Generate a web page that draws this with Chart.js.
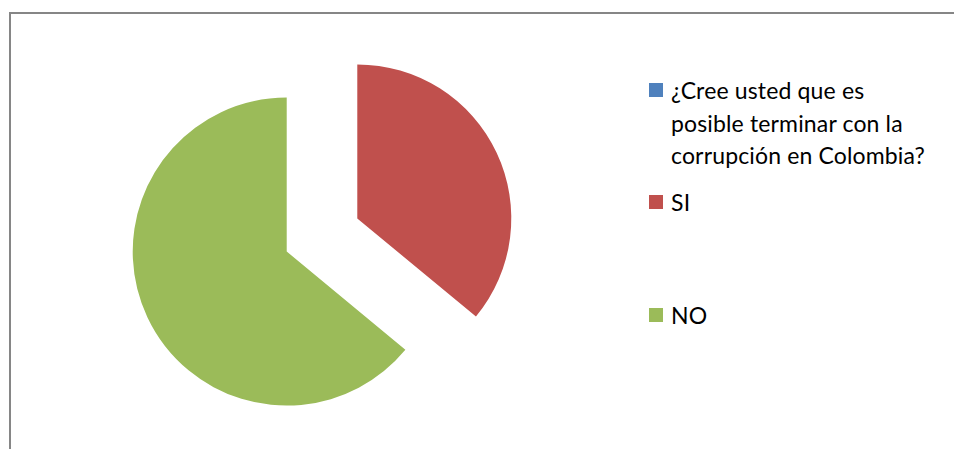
<!DOCTYPE html>
<html>
<head>
<meta charset="utf-8">
<script src="https://cdn.jsdelivr.net/npm/chart.js@4.4.1/dist/chart.umd.min.js"></script>
<style>
  html, body { margin: 0; padding: 0; background: #fff; overflow: hidden; }
  body { width: 954px; height: 449px; position: relative; font-family: Lato, "Open Sans", sans-serif; }
  #frame { position: absolute; left: 9px; top: 12px; width: 960px; height: 460px; border: 2px solid #868686; box-sizing: border-box; }
  #chartBox { position: absolute; left: 10px; top: 20px; width: 624px; height: 430px; }
  #legend { position: absolute; left: 649px; top: 0; }
  .item { position: absolute; left: 0; display: flex; align-items: flex-start; white-space: nowrap; font-size: 23px; letter-spacing: 0.15px; line-height: 32.5px; color: #000; }
  .item:nth-child(1) { top: 74px; }
  .item:nth-child(2) { top: 186px; }
  .item:nth-child(3) { top: 299px; }
  .box { width: 14px; height: 14px; margin-top: 9px; margin-right: 8px; flex: none; }
</style>
</head>
<body>
<div id="frame"></div>
<div id="chartBox"><canvas id="pie"></canvas></div>
<div id="legend"></div>
<script>
// survey answers (percent)
const labels = [
  ['¿Cree usted que es', 'posible terminar con la', 'corrupción en Colombia?'],
  'SI',
  'NO'
];
const values = [0, 36, 64];
const colors = ['#4F81BD', '#C0504D', '#9BBB59'];

const PIE_RADIUS = 154;

// Chart.js grows an exploded slice (radius + offset/4 * fix) and trims its
// angles to compensate; undo both so the slices keep the plain pie shape
const keepRadius = {
  id: 'keepRadius',
  afterDatasetUpdate(chart, args) {
    args.meta.data.forEach(arc => {
      const off = (arc.options.offset || 0) / 4;
      const fix = 1 - Math.sin(Math.min(Math.PI, arc.circumference || 0));
      const grow = off * fix;
      if (!arc.circumference) return;
      arc.outerRadius = PIE_RADIUS - grow;
      const trim = grow / (2 * Math.PI * PIE_RADIUS);
      arc.startAngle -= trim;
      arc.endAngle += trim;
    });
  }
};

new Chart(document.getElementById('pie'), {
  type: 'pie',
  data: {
    labels,
    datasets: [{
      data: values,
      backgroundColor: colors,
      borderWidth: 0,
      offset: [0, 156, 156],
      radius: PIE_RADIUS
    }]
  },
  options: {
    responsive: true,
    maintainAspectRatio: false,
    animation: false,
    events: [],
    plugins: {
      legend: { display: false },
      tooltip: { enabled: false }
    }
  },
  plugins: [keepRadius]
});

// legend on the right
const legend = document.getElementById('legend');
labels.forEach((lab, i) => {
  const item = document.createElement('div');
  item.className = 'item';
  const box = document.createElement('span');
  box.className = 'box';
  box.style.background = colors[i];
  const text = document.createElement('span');
  text.innerHTML = (Array.isArray(lab) ? lab : [lab]).join('<br>');
  item.appendChild(box);
  item.appendChild(text);
  legend.appendChild(item);
});
</script>
</body>
</html>
